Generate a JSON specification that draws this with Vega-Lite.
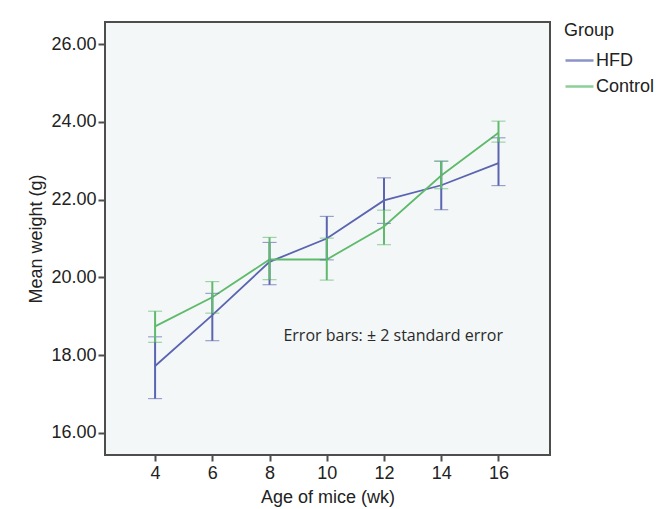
{
  "$schema": "https://vega.github.io/schema/vega-lite/v6.json",
  "width": 445,
  "height": 433,
  "autosize": {"type": "none"},
  "padding": {"left": 105, "top": 22, "right": 120, "bottom": 54},
  "background": "white",
  "config": {
    "view": {"fill": "#f4f7f7", "stroke": "#4d4d4d", "strokeWidth": 2},
    "font": "Liberation Sans",
    "axis": {"grid": false, "domain": false, "tickColor": "#4d4d4d", "tickWidth": 2, "labelColor": "#222", "titleColor": "#222", "labelFont": "Liberation Sans", "titleFont": "Liberation Sans", "titleFontWeight": "normal", "labelFontSize": 18, "titleFontSize": 18},
    "legend": {"labelFont": "Liberation Sans", "titleFont": "Liberation Sans", "labelFontSize": 18, "titleFontSize": 18, "titleFontWeight": "normal", "labelColor": "#222", "titleColor": "#222"}
  },
  "data": {
    "values": [
      {"age": 4, "group": "HFD", "mean": 17.72, "lo": 16.88, "hi": 18.47},
      {"age": 6, "group": "HFD", "mean": 19.03, "lo": 18.37, "hi": 19.59},
      {"age": 8, "group": "HFD", "mean": 20.40, "lo": 19.81, "hi": 20.90},
      {"age": 10, "group": "HFD", "mean": 21.00, "lo": 20.45, "hi": 21.57},
      {"age": 12, "group": "HFD", "mean": 21.98, "lo": 21.39, "hi": 22.56},
      {"age": 14, "group": "HFD", "mean": 22.37, "lo": 21.74, "hi": 22.99},
      {"age": 16, "group": "HFD", "mean": 22.94, "lo": 22.36, "hi": 23.59},
      {"age": 4, "group": "Control", "mean": 18.74, "lo": 18.33, "hi": 19.13},
      {"age": 6, "group": "Control", "mean": 19.49, "lo": 19.08, "hi": 19.89},
      {"age": 8, "group": "Control", "mean": 20.46, "lo": 19.94, "hi": 21.03},
      {"age": 10, "group": "Control", "mean": 20.46, "lo": 19.93, "hi": 21.01},
      {"age": 12, "group": "Control", "mean": 21.31, "lo": 20.84, "hi": 21.73},
      {"age": 14, "group": "Control", "mean": 22.62, "lo": 22.28, "hi": 22.99},
      {"age": 16, "group": "Control", "mean": 23.72, "lo": 23.48, "hi": 24.02}
    ]
  },
  "encoding": {
    "x": {"field": "age", "type": "quantitative", "scale": {"domain": [2.25, 17.8], "nice": false, "zero": false},
      "axis": {"values": [4, 6, 8, 10, 12, 14, 16], "title": "Age of mice (wk)", "tickSize": 6, "labelPadding": 3, "titlePadding": 6}}
  },
  "layer": [
    {
      "mark": {"type": "line", "strokeWidth": 1.8},
      "encoding": {
        "y": {"field": "mean", "type": "quantitative", "title": "Mean weight (g)", "scale": {"domain": [15.43, 26.57], "nice": false, "zero": false},
          "axis": {"values": [16, 18, 20, 22, 24, 26], "format": ".2f", "title": "Mean weight (g)", "tickSize": 7, "labelPadding": 2, "titlePadding": 5}},
        "color": {"field": "group", "type": "nominal", "scale": {"domain": ["HFD", "Control"], "range": ["#5a64b0", "#5fba6c"]},
          "legend": {"title": "Group", "orient": "right", "offset": 14, "symbolType": "stroke", "symbolSize": 784, "symbolStrokeWidth": 2.5, "labelOffset": 1, "titlePadding": 5, "rowPadding": 1}}
      }
    },
    {
      "mark": {"type": "errorbar", "ticks": {"size": 14, "strokeWidth": 2}, "rule": {"strokeWidth": 2}},
      "encoding": {
        "y": {"field": "lo", "type": "quantitative", "title": "Mean weight (g)"},
        "y2": {"field": "hi"},
        "color": {"field": "group", "type": "nominal"}
      }
    },
    {
      "transform": [{"filter": "datum.age == 4 && datum.group == 'HFD'"}],
      "mark": {"type": "text", "font": "Open Sans", "fontSize": 16, "fontWeight": 400, "fill": "#2a2a2a", "align": "center", "baseline": "middle", "text": "Error bars: ± 2 standard error"},
      "encoding": {
        "x": {"datum": 12.32},
        "y": {"datum": 18.5}
      }
    }
  ]
}
